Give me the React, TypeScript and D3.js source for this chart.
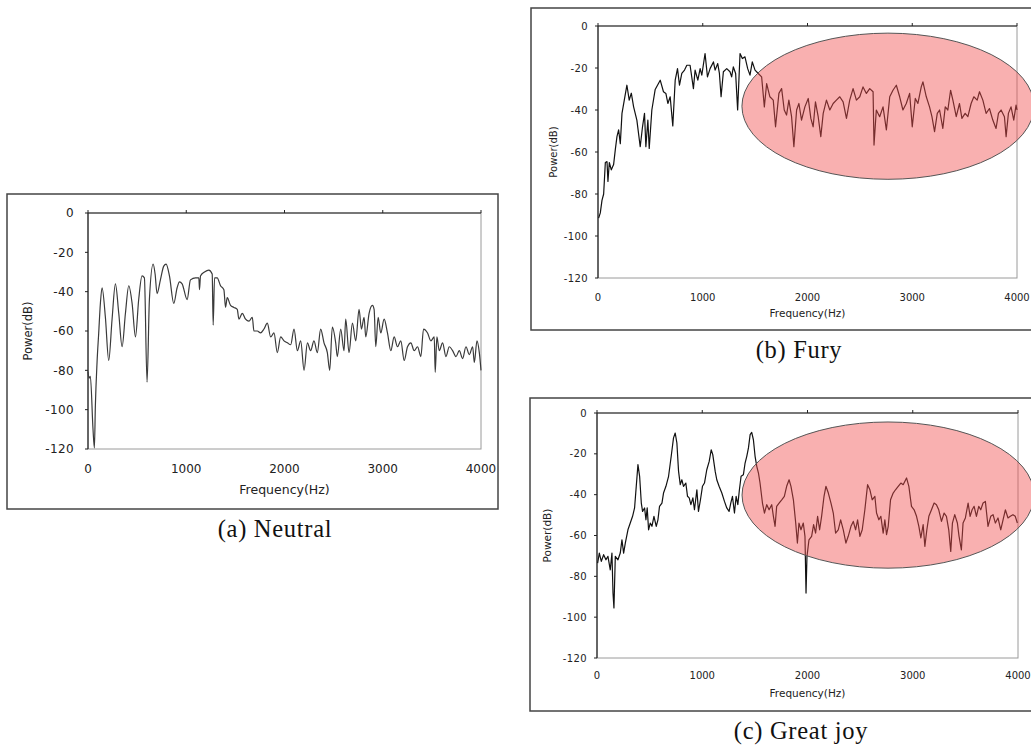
import React from "react";
import * as d3 from "d3";

// ---------- data (frequency Hz, power dB) ----------
const xTickValues = [0, 1000, 2000, 3000, 4000];
const yTickValues = [0, -20, -40, -60, -80, -100, -120];
const xLabel = "Frequency(Hz)";
const yLabel = "Power(dB)";

const neutralSpectrum: [number, number][] = [
  [0, -80.6], [10, -84], [24, -83], [51, -110], [65, -119.5], [75, -98], [92, -76], [109, -61],
  [126, -46], [143, -38], [177, -53], [211, -75], [245, -54], [279, -36], [313, -51], [347, -68],
  [381, -51], [415, -37], [449, -46], [483, -63], [516, -44], [550, -32], [574, -33], [601, -86],
  [625, -44], [663, -26], [683, -31], [703, -41], [737, -34], [771, -27], [795, -26], [829, -32],
  [873, -46], [907, -38], [931, -35], [958, -36], [1009, -44], [1043, -34], [1094, -33], [1128, -33],
  [1135, -39], [1145, -32], [1186, -30], [1230, -29], [1264, -31], [1274, -57], [1288, -33], [1315, -33],
  [1349, -37], [1383, -39], [1400, -48], [1417, -43], [1451, -47], [1485, -48], [1519, -49], [1536, -54],
  [1570, -51], [1604, -54], [1638, -55], [1672, -53], [1689, -60], [1723, -60], [1757, -61], [1791, -59],
  [1825, -56], [1859, -63], [1893, -61], [1927, -71], [1961, -63], [1995, -65], [2029, -66], [2063, -67],
  [2097, -59], [2131, -70], [2165, -65], [2199, -80], [2233, -66], [2266, -70], [2300, -65], [2334, -71],
  [2368, -59], [2402, -66], [2436, -71], [2460, -80], [2487, -58], [2521, -66], [2538, -73], [2572, -59],
  [2606, -70], [2623, -54], [2657, -71], [2691, -56], [2725, -65], [2759, -49], [2783, -59], [2810, -53],
  [2827, -63], [2861, -51], [2895, -47], [2912, -49], [2929, -68], [2953, -53], [2980, -61], [3014, -54],
  [3048, -61], [3082, -70], [3116, -63], [3150, -68], [3184, -65], [3218, -75], [3252, -68], [3286, -66],
  [3320, -70], [3354, -68], [3388, -73], [3415, -59], [3456, -61], [3490, -65], [3524, -63], [3534, -81],
  [3551, -63], [3575, -70], [3609, -66], [3643, -73], [3677, -68], [3711, -70], [3745, -73], [3779, -70],
  [3813, -74], [3847, -68], [3881, -72], [3915, -68], [3932, -76], [3959, -65], [3983, -71], [4000, -80],
];

const furySpectrum: [number, number][] = [
  [6, -91.5], [22, -89], [38, -83], [54, -80], [70, -65], [86, -64.6], [95, -74], [108, -65],
  [127, -68.5], [149, -66], [165, -59], [181, -52.7], [197, -49.5], [213, -56], [229, -41.6], [251, -35.3],
  [276, -28.2], [298, -35.3], [318, -32], [340, -38.5], [371, -44.8], [403, -57.5], [425, -48], [444, -41.6],
  [457, -57.5], [476, -44.8], [489, -58.3], [514, -40], [546, -30.2], [594, -25.8], [625, -31.3], [648, -32.1],
  [667, -36.9], [689, -33.7], [714, -47.6], [737, -25.8], [759, -20.3], [778, -28.2], [800, -22.6], [826, -21],
  [848, -18.7], [879, -18.7], [911, -29.8], [927, -21], [953, -25.8], [975, -20.3], [991, -23.4], [1022, -13.1],
  [1045, -24.2], [1070, -20.3], [1102, -17.1], [1118, -21], [1143, -17.9], [1159, -22.6], [1175, -33.7], [1197, -21.8],
  [1229, -20.3], [1260, -21.8], [1276, -24.2], [1292, -19.5], [1314, -22.6], [1333, -40], [1356, -13.1], [1378, -15.5],
  [1403, -14.7], [1429, -20.3], [1451, -23.4], [1473, -17.1], [1499, -21], [1530, -22.6], [1562, -24.2], [1588, -38.5],
  [1610, -27.4], [1641, -33.7], [1673, -35.3], [1695, -48], [1727, -32.1], [1753, -29.8], [1778, -40], [1800, -42.4],
  [1822, -35.3], [1848, -43.2], [1870, -57.5], [1896, -40], [1918, -36.9], [1943, -44.8], [1975, -38.5], [2007, -34.5],
  [2032, -44], [2054, -48], [2076, -36.1], [2102, -43.2], [2127, -52.7], [2150, -41.6], [2181, -35.3], [2213, -40],
  [2245, -36.9], [2276, -35.3], [2308, -33.7], [2340, -36.1], [2372, -44], [2403, -35.3], [2435, -29.8], [2467, -35.3],
  [2499, -33.7], [2530, -29], [2562, -32.1], [2594, -29.8], [2626, -31.3], [2635, -56.7], [2657, -40], [2689, -43.2],
  [2721, -38.5], [2753, -49.5], [2785, -33.7], [2816, -30.6], [2848, -28.2], [2880, -33.7], [2911, -40], [2943, -36.9],
  [2975, -32.1], [3000, -48], [3029, -34.5], [3054, -36.9], [3086, -29], [3102, -26.6], [3134, -33.7], [3165, -38.5],
  [3188, -43.2], [3213, -50.3], [3239, -41.6], [3261, -40], [3292, -48.8], [3315, -38.5], [3340, -40], [3366, -30.6],
  [3388, -35.3], [3420, -43.2], [3451, -36.9], [3474, -44], [3505, -41.6], [3531, -43.2], [3562, -36.9], [3588, -33.7],
  [3620, -35.3], [3642, -31.3], [3674, -35.3], [3705, -41.6], [3737, -39.3], [3769, -44.8], [3800, -48.8], [3823, -41.6],
  [3848, -40], [3880, -43.2], [3896, -52.7], [3918, -41.6], [3943, -38.5], [3969, -44.8], [3991, -37.7], [4000, -40],
];

const joySpectrum: [number, number][] = [
  [6, -73.5], [22, -68.6], [41, -72.7], [63, -69.4], [85, -71.9], [104, -70.2], [126, -76.8], [142, -68.6],
  [152, -88.2], [161, -95.5], [174, -70.2], [199, -71.9], [221, -68.6], [237, -62.1], [253, -68.6], [269, -63.7],
  [294, -57.2], [316, -53.9], [338, -50.6], [357, -46.5], [373, -35.9], [389, -25.3], [405, -31], [421, -44.1],
  [433, -48.2], [452, -46.5], [465, -52.3], [477, -46.5], [490, -57.2], [506, -53.9], [522, -55.5], [541, -50.6],
  [563, -55.5], [579, -52.3], [594, -45.7], [617, -44.1], [632, -39.2], [655, -35.9], [680, -31], [705, -21.2],
  [727, -12.2], [743, -9.8], [759, -14.7], [775, -28.6], [791, -35.1], [806, -32.7], [822, -35.9], [844, -34.3],
  [860, -40.8], [876, -41.6], [892, -44.9], [911, -41.6], [926, -47.4], [949, -37.6], [964, -48.2], [983, -42.5],
  [1002, -35.9], [1021, -34.3], [1043, -27.8], [1066, -23.7], [1085, -18], [1100, -20.4], [1123, -28.6], [1138, -32.7],
  [1160, -35.9], [1186, -39.2], [1211, -43.3], [1233, -46.5], [1255, -48.2], [1271, -44.1], [1287, -40.8], [1306, -49],
  [1322, -40.8], [1338, -44.9], [1353, -37.6], [1369, -31], [1391, -30.2], [1407, -24.5], [1423, -21.2], [1439, -17.1],
  [1455, -10.6], [1470, -9.5], [1486, -13.1], [1502, -21.2], [1518, -26.1], [1534, -29.4], [1549, -34.3], [1572, -44.1],
  [1591, -49], [1613, -44.9], [1635, -47.4], [1660, -44.9], [1676, -50.6], [1692, -55.5], [1707, -45.7], [1730, -44.1],
  [1755, -42.5], [1780, -40.8], [1802, -35.9], [1825, -32.7], [1843, -35.9], [1866, -42.5], [1888, -53.9], [1904, -63.7],
  [1919, -53.9], [1938, -57.2], [1960, -53.9], [1976, -60.4], [1986, -88.2], [1995, -70.2], [2014, -62.1], [2039, -60.4],
  [2058, -54.7], [2077, -58.8], [2096, -50.6], [2115, -57.2], [2134, -50.6], [2157, -40.8], [2175, -35.9], [2198, -39.2],
  [2223, -44.1], [2245, -49], [2267, -58.8], [2292, -57.2], [2315, -52.3], [2340, -57.2], [2365, -63.7], [2387, -60.4],
  [2413, -55.5], [2435, -53.1], [2457, -57.2], [2476, -52.3], [2498, -60.4], [2520, -57.2], [2545, -47.4], [2571, -35.1],
  [2593, -37.6], [2615, -42.5], [2640, -40.8], [2656, -49], [2678, -52.3], [2697, -50.6], [2719, -58.8], [2735, -52.3],
  [2751, -59.6], [2767, -55.5], [2789, -42.5], [2814, -39.2], [2836, -37.6], [2862, -35.9], [2887, -34.3], [2909, -35.1],
  [2941, -31.8], [2963, -35.9], [2988, -45.7], [3013, -47.4], [3036, -50.6], [3058, -55.5], [3077, -61.2], [3099, -54.7],
  [3115, -65.3], [3134, -57.2], [3153, -50.6], [3178, -47.4], [3203, -44.1], [3225, -44.9], [3247, -47.4], [3273, -53.1],
  [3298, -49], [3320, -50.6], [3342, -57.2], [3361, -67.8], [3377, -53.9], [3399, -49.8], [3424, -53.9], [3440, -60.4],
  [3462, -67], [3478, -53.9], [3500, -51.4], [3526, -44.1], [3545, -50.6], [3564, -47.4], [3583, -45.7], [3605, -50.6],
  [3627, -45.7], [3646, -47.4], [3668, -44.1], [3690, -43.3], [3715, -55.5], [3741, -50.6], [3763, -49.8], [3785, -53.9],
  [3810, -51.4], [3836, -57.2], [3858, -52.3], [3880, -47.4], [3905, -51.4], [3927, -50.6], [3952, -49.8], [3974, -50.6],
  [3994, -53.9],
];

const captions = ["(a) Neutral", "(b) Fury", "(c) Great joy"];

// highlighted region (frequency centre, power centre, half-width Hz, half-height dB)
const furyHighlight = { f: 2768, db: -38.2, hf: 1394, hdb: 34.8 };
const joyHighlight = { f: 2765, db: -40.2, hf: 1387, hdb: 35.8 };

// ---------- panel ----------
type PanelProps = {
  frame: { x: number; y: number; w: number; h: number };
  plot: { l: number; r: number; t: number; b: number };
  data: [number, number][];
  smooth?: boolean;
  tickFont: number;
  xLabelFont: number;
  yLabelFont: number;
  yLabelX: number;
  tickGap: number;
  xTickY: number;
  xLabelY: number;
  lineColor: string;
  highlight?: { f: number; db: number; hf: number; hdb: number };
  caption: string;
  captionX: number;
  captionY: number;
};

function Panel(p: PanelProps) {
  const x = d3.scaleLinear().domain([0, 4000]).range([p.plot.l, p.plot.r]);
  const y = d3.scaleLinear().domain([0, -120]).range([p.plot.t, p.plot.b]);
  const line = d3
    .line<[number, number]>()
    .x((d) => x(d[0]))
    .y((d) => y(d[1]))
    .curve(p.smooth ? d3.curveMonotoneX : d3.curveLinear);
  const font = "'DejaVu Sans', sans-serif";
  const midY = (p.plot.t + p.plot.b) / 2;
  const midX = (p.plot.l + p.plot.r) / 2;
  return (
    <g>
      <rect
        x={p.frame.x}
        y={p.frame.y}
        width={p.frame.w}
        height={p.frame.h}
        fill="white"
        stroke="#444"
        strokeWidth={1.5}
      />
      <rect
        x={p.plot.l}
        y={p.plot.t}
        width={p.plot.r - p.plot.l}
        height={p.plot.b - p.plot.t}
        fill="none"
        stroke="#9a9a9a"
        strokeWidth={1}
      />
      <line x1={p.plot.l} x2={p.plot.l} y1={p.plot.t} y2={p.plot.b} stroke="#222" strokeWidth={1.2} />
      {yTickValues.map((v) => (
        <g key={"y" + v}>
          <line x1={p.plot.l - 3} x2={p.plot.l} y1={y(v)} y2={y(v)} stroke="#222" strokeWidth={1} />
          <text
            x={p.plot.l - p.tickGap}
            y={y(v)}
            dy="0.35em"
            textAnchor="end"
            fontFamily={font}
            fontSize={p.tickFont}
            fill="#222"
            letterSpacing={0.4}
          >
            {v < 0 ? "-" + Math.abs(v) : String(v)}
          </text>
        </g>
      ))}
      <line x1={p.plot.l} x2={p.plot.r} y1={y(0)} y2={y(0)} stroke="#222" strokeWidth={1.2} />
      {xTickValues.map((v) => (
        <g key={"x" + v}>
          <line x1={x(v)} x2={x(v)} y1={y(0) - 3} y2={y(0)} stroke="#222" strokeWidth={1} />
          <text
            x={x(v)}
            y={p.xTickY}
            dy="0.35em"
            textAnchor="middle"
            fontFamily={font}
            fontSize={p.tickFont}
            fill="#222"
          >
            {v}
          </text>
        </g>
      ))}
      <text
        x={midX}
        y={p.xLabelY}
        dy="0.35em"
        textAnchor="middle"
        fontFamily={font}
        fontSize={p.xLabelFont}
        fill="#222"
      >
        {xLabel}
      </text>
      <text
        transform={`translate(${p.yLabelX},${midY}) rotate(-90)`}
        dy="0.35em"
        textAnchor="middle"
        fontFamily={font}
        fontSize={p.yLabelFont}
        fill="#222"
      >
        {yLabel}
      </text>
      <path d={line(p.data) || ""} fill="none" stroke={p.lineColor} strokeWidth={1.2} strokeLinejoin="round" />
      {p.highlight && (
        <ellipse
          cx={x(p.highlight.f)}
          cy={y(p.highlight.db)}
          rx={x(p.highlight.hf) - x(0)}
          ry={y(-p.highlight.hdb) - y(0)}
          fill="rgb(242,80,80)"
          fillOpacity={0.45}
          stroke="#555"
          strokeWidth={1}
        />
      )}
      <text
        x={p.captionX}
        y={p.captionY}
        textAnchor="middle"
        fontFamily="'Liberation Serif', 'Times New Roman', serif"
        fontSize={24.5}
        letterSpacing={0.7}
        fill="#111"
      >
        {p.caption}
      </text>
    </g>
  );
}

export default function App() {
  return (
    <svg
      width={1031}
      height={745}
      style={{ position: "absolute", left: 0, top: 0, background: "white" }}
    >
      <rect x={0} y={0} width={1031} height={745} fill="white" />
      <Panel
        frame={{ x: 7, y: 194, w: 491, h: 315 }}
        plot={{ l: 88, r: 481, t: 213, b: 449 }}
        data={neutralSpectrum}
        smooth={true}
        tickFont={12}
        xLabelFont={12.5}
        yLabelFont={11.5}
        yLabelX={28}
        tickGap={14}
        xTickY={469}
        xLabelY={490}
        lineColor="#3a3a3a"
        caption={captions[0]}
        captionX={275}
        captionY={537}
      />
      <Panel
        frame={{ x: 531, y: 8, w: 520, h: 322 }}
        plot={{ l: 598, r: 1017, t: 26, b: 278 }}
        data={furySpectrum}
        tickFont={10}
        xLabelFont={10.5}
        yLabelFont={10}
        yLabelX={553}
        tickGap={10}
        xTickY={297}
        xLabelY={313}
        lineColor="#111"
        highlight={furyHighlight}
        caption={captions[1]}
        captionX={799}
        captionY={358}
      />
      <Panel
        frame={{ x: 530, y: 398, w: 520, h: 313 }}
        plot={{ l: 597, r: 1018, t: 413, b: 658 }}
        data={joySpectrum}
        tickFont={10}
        xLabelFont={10.5}
        yLabelFont={10.5}
        yLabelX={547}
        tickGap={10}
        xTickY={675}
        xLabelY={693}
        lineColor="#111"
        highlight={joyHighlight}
        caption={captions[2]}
        captionX={801}
        captionY={739}
      />
    </svg>
  );
}
